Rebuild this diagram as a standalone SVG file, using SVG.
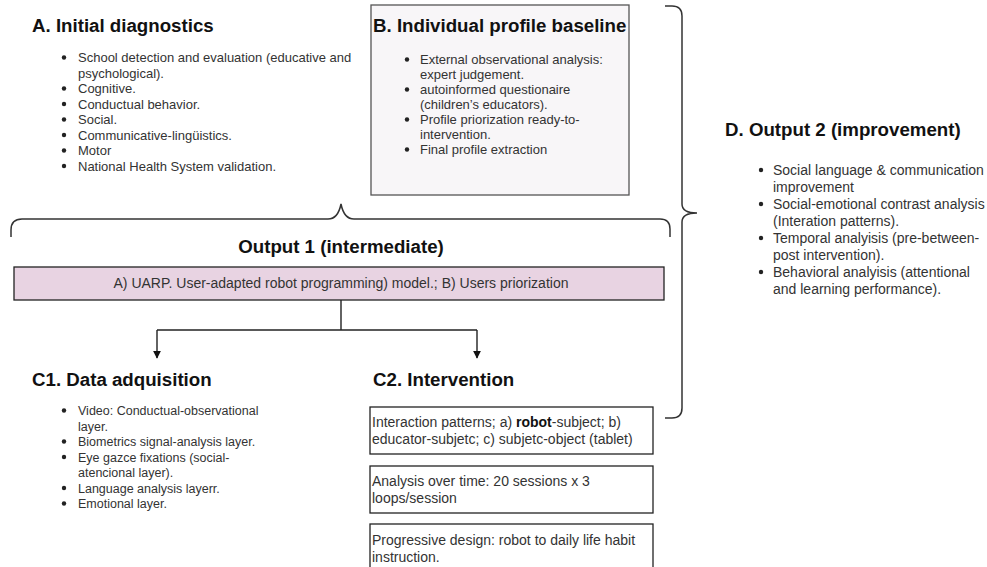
<svg xmlns="http://www.w3.org/2000/svg" width="987" height="567" viewBox="0 0 987 567">
<defs>
<style>
text{font-family:"Liberation Sans",Arial,sans-serif;}
.t{font-size:18.7px;font-weight:bold;fill:#111;}
.b{font-size:13px;fill:#333;}
.b14{font-size:14px;fill:#333;}
.b12{font-size:12.5px;fill:#333;}
.dot{fill:#222;}
.line{fill:none;stroke:#222;stroke-width:1.4;}
.brace{fill:none;stroke:#333;stroke-width:1.5;}
.box{fill:#fff;stroke:#222;stroke-width:1.3;}
</style>
<marker id="arr" viewBox="0 0 10 10" refX="9" refY="5" markerWidth="8" markerHeight="8" markerUnits="userSpaceOnUse" orient="auto">
<path d="M0,0 L10,5 L0,10 z" fill="#111"/>
</marker>
</defs>
<rect x="0" y="0" width="987" height="567" fill="#fff"/>

<g id="nodeA">
<text class="t" x="32" y="32">A. Initial diagnostics</text>
<g class="dot">
<circle cx="64" cy="57.5" r="2.2"/><circle cx="64" cy="88.5" r="2.2"/><circle cx="64" cy="104" r="2.2"/><circle cx="64" cy="119.5" r="2.2"/><circle cx="64" cy="135" r="2.2"/><circle cx="64" cy="150.5" r="2.2"/><circle cx="64" cy="166" r="2.2"/>
</g>
<text class="b" x="78" y="62">School detection and evaluation (educative and</text>
<text class="b" x="78" y="77.5">psychological).</text>
<text class="b" x="78" y="93">Cognitive.</text>
<text class="b" x="78" y="108.5">Conductual behavior.</text>
<text class="b" x="78" y="124">Social.</text>
<text class="b" x="78" y="139.5">Communicative-lingüistics.</text>
<text class="b" x="78" y="155">Motor</text>
<text class="b" x="78" y="170.5">National Health System validation.</text>
</g>

<g id="nodeB">
<rect x="371" y="5" width="258" height="190" fill="#f8f6f8" stroke="#555" stroke-width="1.3"/>
<text class="t" x="373" y="32">B. Individual profile baseline</text>
<g class="dot">
<circle cx="407" cy="59.5" r="2.2"/><circle cx="407" cy="89.5" r="2.2"/><circle cx="407" cy="119.5" r="2.2"/><circle cx="407" cy="149.5" r="2.2"/>
</g>
<text class="b" x="420" y="64">External observational analysis:</text>
<text class="b" x="420" y="79">expert judgement.</text>
<text class="b" x="420" y="94">autoinformed questionaire</text>
<text class="b" x="420" y="109">(children’s educators).</text>
<text class="b" x="420" y="124">Profile priorization ready-to-</text>
<text class="b" x="420" y="139">intervention.</text>
<text class="b" x="420" y="154">Final profile extraction</text>
</g>

<g id="nodeD">
<text class="t" x="725" y="136">D. Output 2 (improvement)</text>
<g class="dot">
<circle cx="761" cy="170" r="2.2"/><circle cx="761" cy="204" r="2.2"/><circle cx="761" cy="238" r="2.2"/><circle cx="761" cy="272" r="2.2"/>
</g>
<text class="b14" x="773" y="175">Social language &amp; communication</text>
<text class="b14" x="773" y="192">improvement</text>
<text class="b14" x="773" y="209">Social-emotional contrast analysis</text>
<text class="b14" x="773" y="226">(Interation patterns).</text>
<text class="b14" x="773" y="243">Temporal analyisis (pre-between-</text>
<text class="b14" x="773" y="260">post intervention).</text>
<text class="b14" x="773" y="277">Behavioral analyisis (attentional</text>
<text class="b14" x="773" y="294">and learning performance).</text>
</g>

<g id="output1">
<text class="t" x="341" y="253" text-anchor="middle">Output 1 (intermediate)</text>
<rect x="14" y="267" width="650" height="33" fill="#e8d3e2" stroke="#222" stroke-width="1.3"/>
<text class="b14" x="341" y="288" text-anchor="middle">A) UARP. User-adapted robot programming) model.; B) Users priorization</text>
</g>

<g id="nodeC1">
<text class="t" x="32" y="386">C1. Data adquisition</text>
<g class="dot">
<circle cx="64" cy="410.5" r="2.2"/><circle cx="64" cy="441.5" r="2.2"/><circle cx="64" cy="457" r="2.2"/><circle cx="64" cy="488" r="2.2"/><circle cx="64" cy="503.5" r="2.2"/>
</g>
<text class="b12" x="78" y="415">Video: Conductual-observational</text>
<text class="b12" x="78" y="430.5">layer.</text>
<text class="b12" x="78" y="446">Biometrics signal-analysis layer.</text>
<text class="b12" x="78" y="461.5">Eye gazce fixations (social-</text>
<text class="b12" x="78" y="477">atencional layer).</text>
<text class="b12" x="78" y="492.5">Language analysis layerr.</text>
<text class="b12" x="78" y="508">Emotional layer.</text>
</g>

<g id="nodeC2">
<text class="t" x="373" y="386">C2. Intervention</text>
</g>
<g id="c2box1">
<rect class="box" x="370" y="407" width="283" height="47"/>
<text class="b14" x="372" y="427">Interaction patterns; a) <tspan font-weight="bold" fill="#111">robot</tspan>-subject; b)</text>
<text class="b14" x="372" y="444">educator-subjetc; c) subjetc-object (tablet)</text>
</g>
<g id="c2box2">
<rect class="box" x="370" y="466" width="283" height="47"/>
<text class="b14" x="372" y="486">Analysis over time: 20 sessions x 3</text>
<text class="b14" x="372" y="503">loops/session</text>
</g>
<g id="c2box3">
<rect class="box" x="370" y="524" width="283" height="60"/>
<text class="b14" x="372" y="545">Progressive design: robot to daily life habit</text>
<text class="b14" x="372" y="562">instruction.</text>
</g>

<g id="connectors">
<path class="brace" d="M11,237 L11,230 Q11,219 22,219 L328,219 Q338,219 341,204 Q344,219 354,219 L660,219 Q670,219 670,229 L670,237"/>
<path class="brace" d="M665,6 L672,6 Q682,6 682,16 L682,204 Q682,213 697,213 Q682,213 682,222 L682,408 Q682,418 672,418 L665,418"/>
<path class="line" d="M341,300 L341,330"/>
<path class="line" d="M157,330 L477,330"/>
<path class="line" d="M157,330 L157,358" marker-end="url(#arr)"/>
<path class="line" d="M477,330 L477,358" marker-end="url(#arr)"/>
</g>
</svg>
